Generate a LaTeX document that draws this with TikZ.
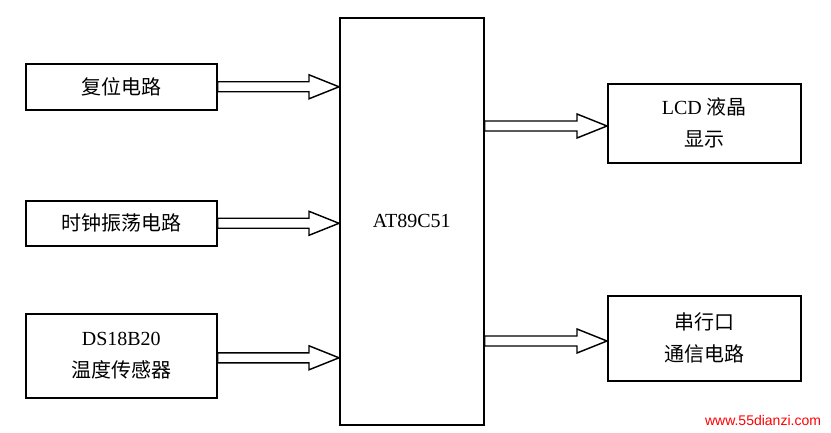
\documentclass[tikz,border=0pt]{standalone}
\usepackage{fontspec}
\setmainfont{Liberation Serif}
\newfontfamily\cjk{Noto Sans CJK SC}
\newfontfamily\wm{Liberation Sans}
\usetikzlibrary{calc}
\newcommand\fatarrow[2]{%
  \draw[line width=1.4pt,fill=white] let \p1=(#1), \p2=(#2) in
   (\x1,\y1+5pt) -- (\x2-30pt,\y1+5pt) -- (\x2-30pt,\y1+12pt) -- (\x2,\y1)
   -- (\x2-30pt,\y1-12pt) -- (\x2-30pt,\y1-5pt) -- (\x1,\y1-5pt) -- cycle;}
\begin{document}
\begin{tikzpicture}[x=1pt,y=-1pt,
  box/.style={draw,line width=1.6pt,anchor=north west,inner sep=0pt,align=center,font=\fontsize{20}{32}\selectfont}]
\useasboundingbox[fill=white] (0,0) rectangle (831,433);
\node[box,minimum width=191pt,minimum height=46pt] (rst) at (25,63) {\cjk 复位电路};
\node[box,minimum width=191pt,minimum height=45pt] (clk) at (25,200) {\cjk 时钟振荡电路};
\node[box,minimum width=191pt,minimum height=84pt] (ds) at (25,313) {DS18B20\\\cjk 温度传感器};
\node[box,minimum width=144pt,minimum height=407pt] (mcu) at (339,17) {AT89C51};
\node[box,minimum width=193pt,minimum height=79pt] (lcd) at (607,83) {LCD {\cjk 液晶}\\\cjk 显示};
\node[box,minimum width=193pt,minimum height=85pt] (uart) at (607,295) {\cjk 串行口\\\cjk 通信电路};
\coordinate (a1s) at (rst.east); \coordinate (a1e) at (mcu.west |- rst.east);
\coordinate (a2s) at (clk.east); \coordinate (a2e) at (mcu.west |- clk.east);
\coordinate (a3s) at ($(ds.east)+(0,2)$); \coordinate (a3e) at (mcu.west |- a3s);
\coordinate (a4s) at (mcu.east |- 0,126); \coordinate (a4e) at (lcd.west |- a4s);
\coordinate (a5s) at (mcu.east |- 0,341); \coordinate (a5e) at (uart.west |- a5s);
\fatarrow{a1s}{a1e}\fatarrow{a2s}{a2e}\fatarrow{a3s}{a3e}
\fatarrow{a4s}{a4e}\fatarrow{a5s}{a5e}
\node[text=red,font=\wm\fontsize{14}{16}\selectfont] (wm) at (763,420) {www.55dianzi.com};
\end{tikzpicture}
\end{document}
